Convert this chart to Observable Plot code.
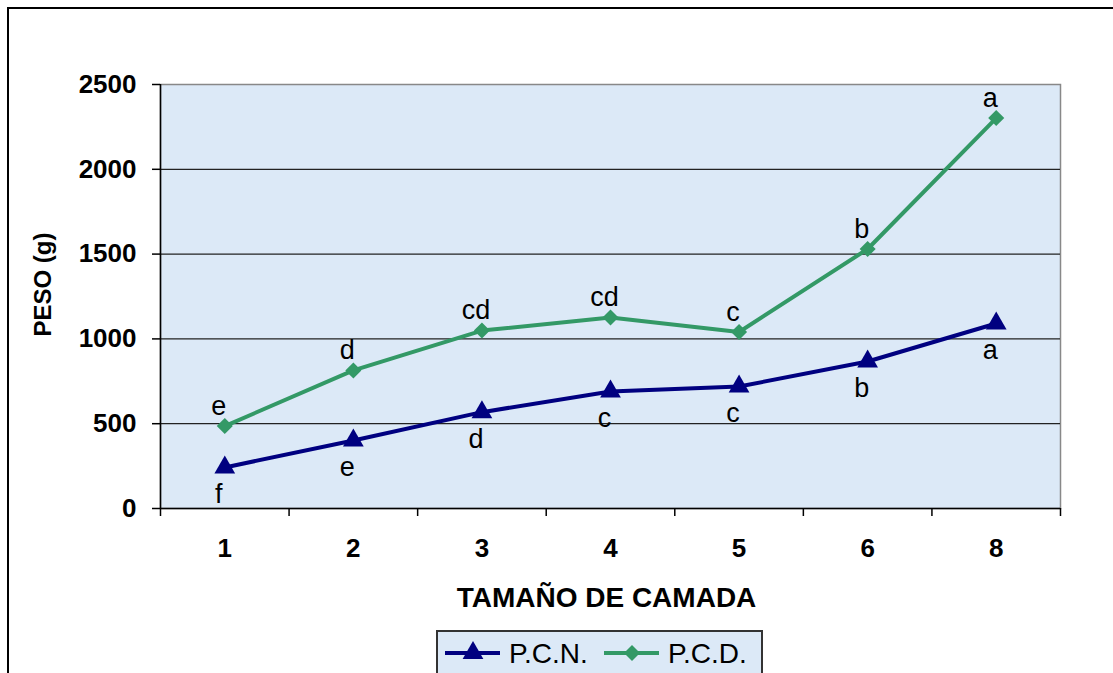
<!DOCTYPE html>
<html>
<head>
<meta charset="utf-8">
<script src="https://cdn.jsdelivr.net/npm/d3@7"></script>
<script src="https://cdn.jsdelivr.net/npm/@observablehq/plot@0.6"></script>
<style>
  body { margin: 0; background: #fff; font-family: "Liberation Sans", Arial, sans-serif; }
  #page { position: relative; width: 1113px; height: 673px; overflow: hidden; background: #fff; }
  #border { position: absolute; left: 7px; top: 7px; width: 1200px; height: 800px; border: 2px solid #000; }
  #chart { position: absolute; left: 0; top: 0; }
  #legend { position: absolute; left: 436px; top: 630px; width: 323px; height: 60px;
            border: 2px solid #333; background: #dce9f7; }
</style>
</head>
<body>
<div id="page">
  <div id="border"></div>
  <div id="chart"></div>
  <div id="legend"></div>
</div>
<script>
// Litter size categories and mean weights (g) for each series
const categories = ["1", "2", "3", "4", "5", "6", "8"];
const seriesNames = ["P.C.N.", "P.C.D."];
const seriesColors = ["#000080", "#339966"];
const pcnValues = [242, 401, 568, 690, 719, 867, 1091];
const pcdValues = [486, 814, 1049, 1126, 1041, 1530, 2302];
// Significance letters for each point
const pcnLetters = ["f", "e", "d", "c", "c", "b", "a"];
const pcdLetters = ["e", "d", "cd", "cd", "c", "b", "a"];
const yTicks = [0, 500, 1000, 1500, 2000, 2500];
const gridValues = [500, 1000, 1500, 2000];
const xTitle = "TAMAÑO DE CAMADA";
const yTitle = "PESO (g)";

const rows = categories.flatMap((c, i) => [
  { pos: i + 1, cat: c, serie: seriesNames[0], peso: pcnValues[i], letra: pcnLetters[i] },
  { pos: i + 1, cat: c, serie: seriesNames[1], peso: pcdValues[i], letra: pcdLetters[i] }
]);
const pcnRows = rows.filter(d => d.serie === seriesNames[0]);
const pcdRows = rows.filter(d => d.serie === seriesNames[1]);

// Category boundaries (ticks sit between categories)
const boundaries = d3.range(categories.length + 1).map(i => i + 0.5);
const centers = categories.map((c, i) => i + 1);

const plotBg = "#dce9f7";
const fontFamily = "'Liberation Sans', Arial, sans-serif";

const chart = Plot.plot({
  width: 1113,
  height: 625,
  marginLeft: 160,
  marginRight: 53,
  marginTop: 84,
  marginBottom: 117,
  style: { fontFamily, background: "transparent", overflow: "visible", color: "#000" },
  x: { type: "linear", domain: [0.5, categories.length + 0.5] },
  y: { domain: [0, 2500] },
  color: { domain: seriesNames, range: seriesColors },
  marks: [
    Plot.frame({ fill: plotBg, stroke: "none" }),
    Plot.frame({ stroke: "#888", strokeWidth: 1.5 }),
    Plot.ruleY(gridValues, { stroke: "#222", strokeWidth: 1.2 }),
    Plot.ruleY([0], { stroke: "#000", strokeWidth: 1.5 }),
    Plot.ruleX([0.5], { stroke: "#000", strokeWidth: 1.5 }),
    Plot.axisY({ ticks: yTicks, tickSize: 8, tickPadding: 16, tickFormat: d => String(d),
                 fontSize: 26, fontWeight: "bold", label: null, strokeWidth: 1.5 }),
    Plot.axisX({ ticks: boundaries, tickSize: 8, tickFormat: () => "", label: null, strokeWidth: 1.5 }),
    Plot.axisX({ ticks: centers, tickSize: 0, tickPadding: 30, tickFormat: d => categories[d - 1],
                 fontSize: 26, fontWeight: "bold", label: null }),
    Plot.lineY(rows, { x: "pos", y: "peso", z: "serie", stroke: "serie", strokeWidth: 4 }),
    Plot.dot(pcnRows, { x: "pos", y: "peso", symbol: "triangle", r: 7.7, fill: "serie", stroke: "none" }),
    Plot.dot(pcdRows, { x: "pos", y: "peso", symbol: "square", r: 6.4, rotate: 45, fill: "serie", stroke: "none" }),
    Plot.text(pcnRows, { x: "pos", y: "peso", text: "letra", dx: -6, dy: 27, fontSize: 27 }),
    Plot.text(pcdRows, { x: "pos", y: "peso", text: "letra", dx: -6, dy: -20, fontSize: 27 }),
    Plot.text([xTitle], { text: d => d, frameAnchor: "bottom", dx: -4, dy: 90, lineAnchor: "middle",
                          fontSize: 28, fontWeight: "bold" }),
    Plot.text([yTitle], { text: d => d, frameAnchor: "left", dx: -117, dy: -12, rotate: -90,
                          textAnchor: "middle", fontSize: 24, fontWeight: "bold" })
  ]
});
document.getElementById("chart").appendChild(chart);

// Legend: line + marker + name for each series
const legend = d3.select("#legend").append("svg")
  .attr("width", 323).attr("height", 60)
  .style("font-family", fontFamily);
const legendItems = [
  { x: 7, symbol: d3.symbolTriangle, size: Math.PI * 7.7 * 7.7, rotate: 0 },
  { x: 166, symbol: d3.symbolSquare, size: Math.PI * 6.4 * 6.4, rotate: 45 }
];
legendItems.forEach((it, i) => {
  const g = legend.append("g").attr("transform", `translate(${it.x},21)`);
  g.append("line").attr("x1", 0).attr("x2", 55).attr("y1", 0).attr("y2", 0)
    .attr("stroke", seriesColors[i]).attr("stroke-width", 4);
  g.append("path").attr("d", d3.symbol(it.symbol, it.size)())
    .attr("transform", `translate(28,0) rotate(${it.rotate})`)
    .attr("fill", seriesColors[i]);
  g.append("text").attr("x", 64).attr("y", 0).attr("dy", "0.35em")
    .attr("font-size", 28).attr("fill", "#000").text(seriesNames[i]);
});
</script>
</body>
</html>
